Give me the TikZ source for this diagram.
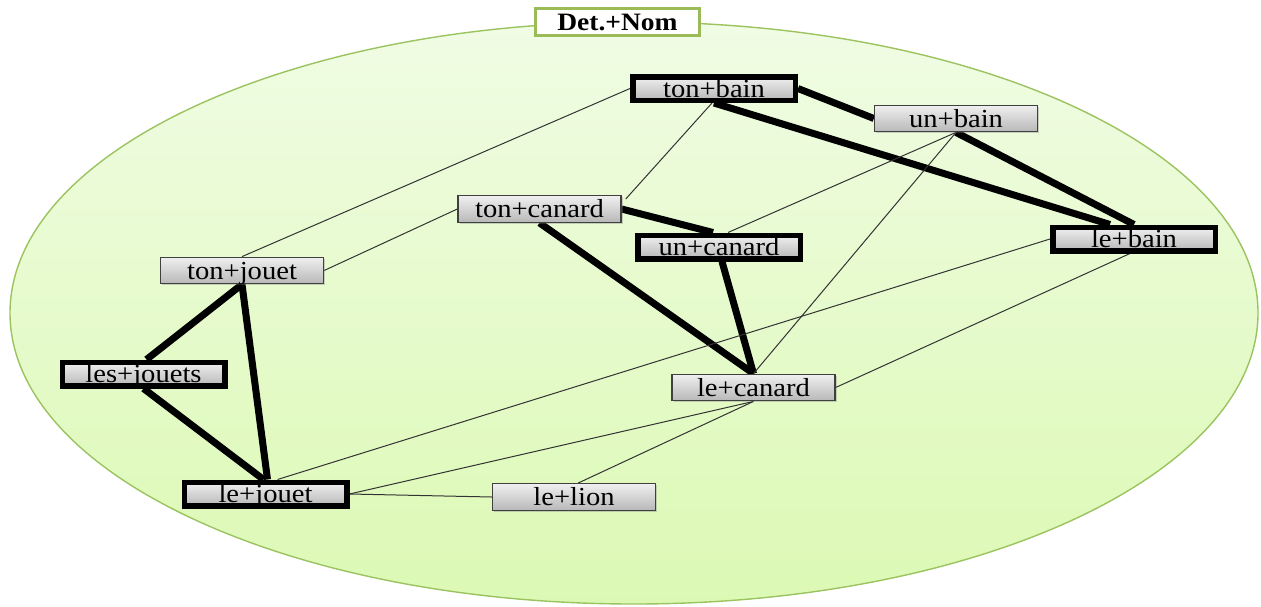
\documentclass[tikz,border=0pt]{standalone}
\usepackage{fontspec}
\usetikzlibrary{shadows}
\newfontfamily\nodefont[FakeStretch=1.1]{Liberation Serif}
\definecolor{ellborder}{RGB}{155,195,95}
\definecolor{elltop}{RGB}{240,252,228}
\definecolor{ellbot}{RGB}{220,249,180}
\definecolor{titleborder}{RGB}{155,187,89}
\pgfdeclarelayer{bg}
\pgfdeclarelayer{edges}
\pgfsetlayers{bg,edges,main}
\tikzset{
  wbox/.style={draw=black!75, line width=1.3pt, top color=white!94!black, bottom color=black!28,
    minimum width=163pt, minimum height=26.5pt, inner sep=0pt, text height=17pt, text depth=0pt,
    font=\nodefont\fontsize{26}{26}\selectfont,
    drop shadow={shadow xshift=1.5pt, shadow yshift=-1.5pt, opacity=0.35}},
  tbox/.style={wbox, draw=black, line width=5.5pt, minimum height=23.5pt, minimum width=162.5pt},
  titlebox/.style={draw=titleborder, line width=3pt, fill=white, minimum width=164pt, minimum height=27pt,
    inner sep=0pt, text height=17pt, text depth=0pt, font=\nodefont\bfseries\fontsize{25}{25}\selectfont},
  strong/.style={line width=7pt, black},
  weak/.style={line width=1pt, black!80},
}
\begin{document}
\begin{tikzpicture}[x=1pt,y=-1pt]
\useasboundingbox (0,0) rectangle (1261,606);
\begin{pgfonlayer}{bg}
\path[draw=ellborder, line width=1.4pt, top color=elltop, bottom color=ellbot]
  (634,313) ellipse [x radius=624pt, y radius=291pt];
\end{pgfonlayer}
\node[titlebox] (title) at (617.5,22) {Det.+Nom};
\node[tbox] (tonbain) at (714,88.5) {ton+bain};
\node[wbox] (unbain) at (956,118.5) {un+bain};
\node[wbox] (toncanard) at (539.5,209) {ton+canard};
\node[tbox] (uncanard) at (719,247) {un+canard};
\node[tbox] (lebain) at (1134,239) {le+bain};
\node[wbox] (tonjouet) at (242,270.5) {ton+jouet};
\node[tbox] (lesjouets) at (143.5,374) {les+jouets};
\node[wbox] (lecanard) at (753.5,387.5) {le+canard};
\node[tbox] (lejouet) at (265.5,494) {le+jouet};
\node[wbox] (lelion) at (574,497) {le+lion};
\begin{pgfonlayer}{edges}
% strong links
\draw[strong] (tonbain.east) -- (unbain.west);
\draw[strong] (tonbain.south) -- ([xshift=-24pt]lebain.north);
\draw[strong] (unbain.south) -- (lebain.north);
\draw[strong] (toncanard.east) -- ([xshift=-6pt]uncanard.north);
\draw[strong] (toncanard.south) -- (lecanard.north);
\draw[strong] ([xshift=3pt]uncanard.south) -- (lecanard.north);
\draw[strong] (tonjouet.south) -- ([xshift=3pt]lesjouets.north);
\draw[strong] (tonjouet.south) -- ([xshift=2pt]lejouet.north);
\draw[strong] (lesjouets.south) -- ([xshift=-2pt]lejouet.north);
% weak links
\draw[weak] (tonbain.west) -- (tonjouet.north);
\draw[weak] ([xshift=-2pt]tonbain.south) -- ([xshift=4pt,yshift=-4pt]toncanard.north east);
\draw[weak] (unbain.south) -- ([xshift=9pt]uncanard.north);
\draw[weak] (unbain.south) -- (lecanard.north);
\draw[weak] (tonjouet.east) -- (toncanard.west);
\draw[weak] (lebain.west) -- ([xshift=12pt]lejouet.north);
\draw[weak] ([xshift=-4pt]lebain.south) -- (lecanard.east);
\draw[weak] (lecanard.south) -- (lejouet.east);
\draw[weak] (lecanard.south) -- ([xshift=4pt]lelion.north);
\draw[weak] (lejouet.east) -- (lelion.west);
\end{pgfonlayer}
\end{tikzpicture}
\end{document}
